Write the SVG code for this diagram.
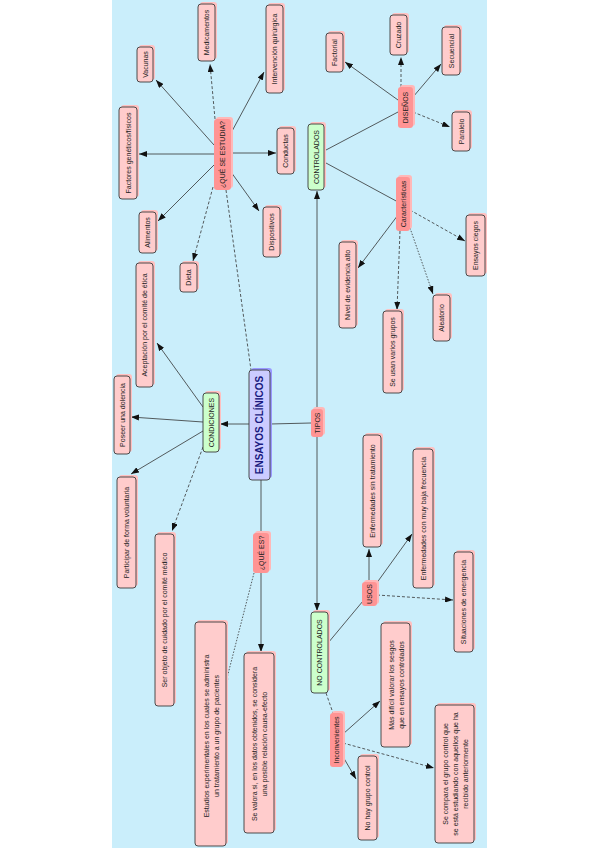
<svg xmlns="http://www.w3.org/2000/svg" width="599" height="848" viewBox="0 0 599 848">
<style>
.bg{fill:#caeefb}
.sh{fill:#ffc0c0}
.box{fill:#ffcccc;stroke:#3a3a3a;stroke-width:0.9}
.lp{fill:#ff9494}
.lps{fill:#ffb8b8}
.grn{fill:#ccffcc;stroke:#3a3a3a;stroke-width:0.9}
.blu{fill:#ccccff;stroke:#3a3a3a;stroke-width:0.9}
.blus{fill:#9999ff}
.t{font-family:"Liberation Sans",Arial,sans-serif;font-size:7px;fill:#222;text-anchor:middle;dominant-baseline:central}
.tm{font-family:"Liberation Sans",Arial,sans-serif;font-size:10px;font-weight:bold;fill:#1a1a80;text-anchor:middle;dominant-baseline:central}
.c{fill:none;stroke:#333;stroke-width:0.8}
.a{marker-end:url(#ah)}
.d{stroke-dasharray:3,2}
.dt{stroke-dasharray:1.5,1.5}
</style>
<defs>
<marker id="ah" markerUnits="userSpaceOnUse" markerWidth="8" markerHeight="6" refX="8" refY="3" orient="auto">
<path d="M0,0 L8,3 L0,6 z" fill="#111"/>
</marker>
</defs>
<rect class="bg" x="112" y="0" width="375" height="848"/>
<g id="connectors">
<line class="c a" x1="214" y1="145" x2="156" y2="80"/>
<line class="c a d" x1="215" y1="119" x2="210" y2="64"/>
<line class="c a" x1="231" y1="133" x2="264" y2="72"/>
<line class="c a" x1="231" y1="153" x2="276" y2="153"/>
<line class="c a" x1="231" y1="172" x2="259" y2="211"/>
<line class="c a d" x1="213" y1="187" x2="193" y2="261"/>
<line class="c a" x1="214" y1="165" x2="158" y2="221"/>
<line class="c a" x1="214" y1="154" x2="139" y2="154"/>
<line class="c d" x1="226" y1="190" x2="251" y2="370"/>
<line class="c a" x1="249" y1="424" x2="220" y2="424"/>
<line class="c a" x1="203" y1="407" x2="157" y2="343"/>
<line class="c a" x1="203" y1="422" x2="131" y2="417"/>
<line class="c a" x1="203" y1="431" x2="131" y2="474"/>
<line class="c a d" x1="203" y1="447" x2="172" y2="531"/>
<line class="c" x1="270" y1="424" x2="311" y2="423"/>
<line class="c" x1="261" y1="480" x2="261" y2="533"/>
<line class="c a" x1="261" y1="573" x2="261" y2="652"/>
<line class="c dt" x1="254" y1="573" x2="227" y2="678"/>
<circle cx="227" cy="679" r="1.2" fill="#111"/>
<line class="c a" x1="317" y1="409" x2="317" y2="191"/>
<line class="c a" x1="317" y1="437" x2="317" y2="611"/>
<line class="c" x1="326" y1="150" x2="398" y2="112"/>
<line class="c" x1="326" y1="163" x2="398" y2="202"/>
<line class="c a" x1="398" y1="100" x2="345" y2="62"/>
<line class="c a d" x1="401" y1="87" x2="401" y2="57"/>
<line class="c a" x1="413" y1="97" x2="441" y2="64"/>
<line class="c a d" x1="413" y1="112" x2="450" y2="127"/>
<line class="c a d" x1="410" y1="210" x2="465" y2="241"/>
<line class="c a" x1="398" y1="215" x2="358" y2="268"/>
<line class="c a d" x1="400" y1="231" x2="397" y2="310"/>
<line class="c a dt" x1="410" y1="228" x2="433" y2="294"/>
<line class="c" x1="328" y1="643" x2="363" y2="601"/>
<line class="c d" x1="326" y1="693" x2="333" y2="713"/>
<line class="c a" x1="369" y1="582" x2="369" y2="549"/>
<line class="c a" x1="376" y1="584" x2="412" y2="534"/>
<line class="c a d" x1="377" y1="595" x2="453" y2="600"/>
<line class="c a" x1="343" y1="734" x2="380" y2="701"/>
<line class="c a d" x1="343" y1="743" x2="434" y2="768"/>
<line class="c a" x1="342" y1="755" x2="356" y2="779"/>
</g>
<g id="ensayos"><rect class="blus" x="251" y="368" width="21" height="110" rx="3"/><rect class="blu" x="249" y="370" width="21" height="110" rx="3"/><text class="tm" transform="translate(259.5,425) rotate(-90)">ENSAYOS CLÍNICOS</text></g>
<g id="que_estudia"><rect class="lps" x="216" y="117" width="17" height="71" rx="3"/><rect class="lp" x="214" y="119" width="17" height="71" rx="3"/><text class="t" transform="translate(222.5,154.5) rotate(-90)">¿QUÉ SE ESTUDIA?</text></g>
<g id="vacunas"><rect class="sh" x="139" y="45" width="16" height="35" rx="3"/><rect class="box" x="137" y="47" width="16" height="35" rx="3"/><text class="t" transform="translate(145,64.5) rotate(-90)">Vacunas</text></g>
<g id="medicamentos"><rect class="sh" x="200" y="2" width="17" height="57" rx="3"/><rect class="box" x="198" y="4" width="17" height="57" rx="3"/><text class="t" transform="translate(206.5,32.5) rotate(-90)">Medicamentos</text></g>
<g id="intervencion"><rect class="sh" x="268" y="3" width="17" height="88" rx="3"/><rect class="box" x="266" y="5" width="17" height="88" rx="3"/><text class="t" transform="translate(274.5,49) rotate(-90)">Intervención quirúrgica</text></g>
<g id="conductas"><rect class="sh" x="279" y="126" width="17" height="46" rx="3"/><rect class="box" x="277" y="128" width="17" height="46" rx="3"/><text class="t" transform="translate(285.5,151) rotate(-90)">Conductas</text></g>
<g id="dispositivos"><rect class="sh" x="265" y="205" width="17" height="50" rx="3"/><rect class="box" x="263" y="207" width="17" height="50" rx="3"/><text class="t" transform="translate(271.5,232) rotate(-90)">Dispositivos</text></g>
<g id="dieta"><rect class="sh" x="182" y="261" width="17" height="29" rx="3"/><rect class="box" x="180" y="263" width="17" height="29" rx="3"/><text class="t" transform="translate(188.5,277.5) rotate(-90)">Dieta</text></g>
<g id="alimentos"><rect class="sh" x="141" y="210" width="17" height="41" rx="3"/><rect class="box" x="139" y="212" width="17" height="41" rx="3"/><text class="t" transform="translate(147.5,232.5) rotate(-90)">Alimentos</text></g>
<g id="factores"><rect class="sh" x="121" y="105" width="18" height="92" rx="3"/><rect class="box" x="119" y="107" width="18" height="92" rx="3"/><text class="t" transform="translate(128,153) rotate(-90)">Factores genéticos/físicos</text></g>
<g id="condiciones"><rect class="sh" x="205" y="391" width="16" height="59" rx="3"/><rect class="grn" x="203" y="393" width="16" height="59" rx="3"/><text class="t" transform="translate(211,422.5) rotate(-90)">CONDICIONES</text></g>
<g id="aceptacion"><rect class="sh" x="138" y="261" width="17" height="124" rx="3"/><rect class="box" x="136" y="263" width="17" height="124" rx="3"/><text class="t" transform="translate(144.5,325) rotate(-90)">Aceptación por el comité de ética</text></g>
<g id="poseer"><rect class="sh" x="116" y="374" width="16" height="78" rx="3"/><rect class="box" x="114" y="376" width="16" height="78" rx="3"/><text class="t" transform="translate(122,415) rotate(-90)">Poseer una dolencia</text></g>
<g id="participar"><rect class="sh" x="119" y="475" width="19" height="111" rx="3"/><rect class="box" x="117" y="477" width="19" height="111" rx="3"/><text class="t" transform="translate(126.5,532.5) rotate(-90)">Participar de forma voluntaria</text></g>
<g id="serobjeto"><rect class="sh" x="157" y="532" width="19" height="172" rx="3"/><rect class="box" x="155" y="534" width="19" height="172" rx="3"/><text class="t" transform="translate(164.5,620) rotate(-90)">Ser objeto de cuidado por el comité médico</text></g>
<g id="que_es"><rect class="lps" x="255" y="531" width="16" height="40" rx="3"/><rect class="lp" x="253" y="533" width="16" height="40" rx="3"/><text class="t" transform="translate(261,553) rotate(-90)">¿QUÉ ES?</text></g>
<g id="estudios"><rect class="sh" x="197" y="620" width="31" height="224" rx="3"/><rect class="box" x="195" y="622" width="31" height="224" rx="3"/><text class="t" transform="translate(210.5,736) rotate(-90)"><tspan x="0" y="-5">Estudios experimentales en los cuales se administra</tspan><tspan x="0" y="5">un tratamiento a un grupo de pacientes</tspan></text></g>
<g id="sevalora"><rect class="sh" x="246" y="651" width="30" height="180" rx="3"/><rect class="box" x="244" y="653" width="30" height="180" rx="3"/><text class="t" transform="translate(259,744) rotate(-90)"><tspan x="0" y="-5">Se valora si, en los datos obtenidos, se considera</tspan><tspan x="0" y="5">una posible relación causa-efecto</tspan></text></g>
<g id="tipos"><rect class="lps" x="313" y="407" width="12" height="28" rx="3"/><rect class="lp" x="311" y="409" width="12" height="28" rx="3"/><text class="t" transform="translate(317,423) rotate(-90)">TIPOS</text></g>
<g id="controlados"><rect class="sh" x="310" y="122" width="16" height="66" rx="3"/><rect class="grn" x="308" y="124" width="16" height="66" rx="3"/><text class="t" transform="translate(316,157) rotate(-90)">CONTROLADOS</text></g>
<g id="disenos"><rect class="lps" x="400" y="85" width="15" height="41" rx="3"/><rect class="lp" x="398" y="87" width="15" height="41" rx="3"/><text class="t" transform="translate(405.5,107.5) rotate(-90)">DISEÑOS</text></g>
<g id="factorial"><rect class="sh" x="328" y="31" width="17" height="39" rx="3"/><rect class="box" x="326" y="33" width="17" height="39" rx="3"/><text class="t" transform="translate(334.5,52.5) rotate(-90)">Factorial</text></g>
<g id="cruzado"><rect class="sh" x="392" y="13" width="17" height="40" rx="3"/><rect class="box" x="390" y="15" width="17" height="40" rx="3"/><text class="t" transform="translate(398.5,35) rotate(-90)">Cruzado</text></g>
<g id="secuencial"><rect class="sh" x="444" y="25" width="18" height="48" rx="3"/><rect class="box" x="442" y="27" width="18" height="48" rx="3"/><text class="t" transform="translate(451,51) rotate(-90)">Secuencial</text></g>
<g id="paralelo"><rect class="sh" x="454" y="110" width="18" height="39" rx="3"/><rect class="box" x="452" y="112" width="18" height="39" rx="3"/><text class="t" transform="translate(461,131.5) rotate(-90)">Paralelo</text></g>
<g id="caracteristicas"><rect class="lps" x="398" y="175" width="14" height="54" rx="3"/><rect class="lp" x="396" y="177" width="14" height="54" rx="3"/><text class="t" transform="translate(403,204) rotate(-90)">Características</text></g>
<g id="ciegos"><rect class="sh" x="468" y="213" width="19" height="61" rx="3"/><rect class="box" x="466" y="215" width="19" height="61" rx="3"/><text class="t" transform="translate(475.5,245.5) rotate(-90)">Ensayos ciegos</text></g>
<g id="nivel"><rect class="sh" x="341" y="240" width="17" height="86" rx="3"/><rect class="box" x="339" y="242" width="17" height="86" rx="3"/><text class="t" transform="translate(347.5,285) rotate(-90)">Nivel de evidencia alto</text></g>
<g id="grupos"><rect class="sh" x="385" y="309" width="19" height="82" rx="3"/><rect class="box" x="383" y="311" width="19" height="82" rx="3"/><text class="t" transform="translate(392.5,352) rotate(-90)">Se usan varios grupos</text></g>
<g id="aleatorio"><rect class="sh" x="435" y="293" width="17" height="46" rx="3"/><rect class="box" x="433" y="295" width="17" height="46" rx="3"/><text class="t" transform="translate(441.5,318) rotate(-90)">Aleatorio</text></g>
<g id="nocontrolados"><rect class="sh" x="313" y="610" width="17" height="81" rx="3"/><rect class="grn" x="311" y="612" width="17" height="81" rx="3"/><text class="t" transform="translate(319.5,652.5) rotate(-90)">NO CONTROLADOS</text></g>
<g id="usos"><rect class="lps" x="364" y="580" width="15" height="24" rx="3"/><rect class="lp" x="362" y="582" width="15" height="24" rx="3"/><text class="t" transform="translate(369.5,594) rotate(-90)">USOS</text></g>
<g id="sintrat"><rect class="sh" x="365" y="433" width="18" height="112" rx="3"/><rect class="box" x="363" y="435" width="18" height="112" rx="3"/><text class="t" transform="translate(372,491) rotate(-90)">Enfermedades sin tratamiento</text></g>
<g id="bajafrec"><rect class="sh" x="415" y="447" width="20" height="139" rx="3"/><rect class="box" x="413" y="449" width="20" height="139" rx="3"/><text class="t" transform="translate(423,518.5) rotate(-90)">Enfermedades con muy baja frecuencia</text></g>
<g id="emergencia"><rect class="sh" x="456" y="550" width="19" height="100" rx="3"/><rect class="box" x="454" y="552" width="19" height="100" rx="3"/><text class="t" transform="translate(463.5,602) rotate(-90)">Situaciones de emergencia</text></g>
<g id="inconvenientes"><rect class="lps" x="332" y="711" width="13" height="54" rx="3"/><rect class="lp" x="330" y="713" width="13" height="54" rx="3"/><text class="t" transform="translate(336.5,740) rotate(-90)">Inconvenientes</text></g>
<g id="masdificil"><rect class="sh" x="383" y="621" width="29" height="124" rx="3"/><rect class="box" x="381" y="623" width="29" height="124" rx="3"/><text class="t" transform="translate(395.5,685) rotate(-90)"><tspan x="0" y="-5">Más difícil valorar los sesgos</tspan><tspan x="0" y="5">que en ensayos controlados</tspan></text></g>
<g id="secompara"><rect class="sh" x="437" y="703" width="39" height="138" rx="3"/><rect class="box" x="435" y="705" width="39" height="138" rx="3"/><text class="t" transform="translate(454.5,774) rotate(-90)"><tspan x="0" y="-10">Se compara el grupo control que</tspan><tspan x="0" y="0">se está estudiando con aquellos que ha</tspan><tspan x="0" y="10">recibido anteriormente</tspan></text></g>
<g id="nohay"><rect class="sh" x="360" y="754" width="19" height="84" rx="3"/><rect class="box" x="358" y="756" width="19" height="84" rx="3"/><text class="t" transform="translate(367.5,798) rotate(-90)">No hay grupo control</text></g>
</svg>
